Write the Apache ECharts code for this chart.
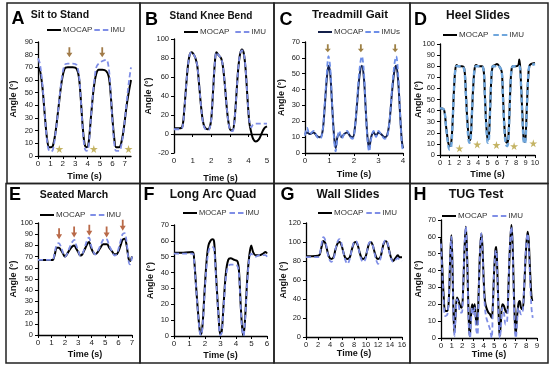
<!DOCTYPE html>
<html><head><meta charset="utf-8">
<script src="https://cdn.jsdelivr.net/npm/echarts@6/dist/echarts.min.js"></script>
<style>html,body{margin:0;padding:0;background:#fff}#c{width:550px;height:369px}</style>
</head><body><div id="c"></div>
<script>
// ---------- DATA ----------
const panelLetters = ['A','B','C','D','E','F','G','H'];
const panelTitles = ['Sit to Stand','Stand Knee Bend','Treadmill Gait','Heel Slides','Seated March','Long Arc Quad','Wall Slides','TUG Test'];
const imuNames = ['IMU','IMU','IMUs','IMU','IMU','IMU','IMU','IMU'];
const xRanges = [[0,7.5,1],[0,5,1],[0,4,1],[0,10,1],[0,7,1],[0,6,1],[0,16,2],[0,9,1]];
const yRanges = [[0,90,10],[-20,100,20],[0,70,10],[0,100,10],[0,100,10],[0,70,10],[0,120,20],[0,70,10]];

const mocapA = [[0,70],[0.15,68],[0.35,55],[0.55,32],[0.75,12],[0.9,7],[1.05,7],[1.2,8],[1.4,18],[1.65,38],[1.9,58],[2.15,69],[2.4,70],[2.8,70],[3.1,69],[3.3,62],[3.45,45],[3.6,24],[3.75,10],[3.9,7],[4.05,8],[4.3,34],[4.5,54],[4.7,65],[4.9,68],[5.2,68],[5.5,67],[5.7,63],[5.85,50],[6.0,30],[6.15,14],[6.3,7],[6.55,7],[6.75,12],[6.95,24],[7.15,40],[7.35,52],[7.5,60]];
const imuA = [[0,77],[0.15,73],[0.35,57],[0.55,32],[0.75,10],[0.9,4],[1.05,3.5],[1.2,5],[1.4,17],[1.65,38],[1.9,60],[2.15,72],[2.4,73],[2.8,73],[3.1,72],[3.3,64],[3.45,45],[3.6,22],[3.75,7],[3.9,4],[4.05,5],[4.3,34],[4.5,56],[4.7,70],[4.9,73],[5.2,75],[5.5,76],[5.7,70],[5.85,52],[6.0,28],[6.15,10],[6.3,4],[6.55,4],[6.75,10],[6.95,24],[7.15,43],[7.35,60],[7.5,70]];

const mocapB = [[0,6],[0.3,6],[0.45,8],[0.55,25],[0.65,50],[0.75,72],[0.85,84],[0.95,86],[1.05,84],[1.15,80],[1.25,72],[1.35,52],[1.45,30],[1.55,14],[1.65,7],[1.8,5],[1.9,6],[2.0,15],[2.1,45],[2.2,76],[2.28,86],[2.4,83],[2.55,79],[2.65,68],[2.75,48],[2.85,25],[2.95,10],[3.05,4],[3.15,4],[3.25,14],[3.35,40],[3.45,68],[3.55,84],[3.65,89],[3.75,85],[3.85,68],[3.95,38],[4.05,12],[4.15,2],[4.25,-5],[4.4,-8],[4.55,-6],[4.7,0],[4.85,6],[5,8]];
const imuB = [[0,5],[0.3,5],[0.45,7],[0.55,24],[0.65,50],[0.75,72],[0.85,84],[0.95,86],[1.05,84],[1.15,80],[1.25,72],[1.35,52],[1.45,30],[1.55,13],[1.65,6],[1.8,4],[1.9,5],[2.0,15],[2.1,45],[2.2,76],[2.28,86],[2.4,83],[2.55,79],[2.65,68],[2.75,48],[2.85,25],[2.95,9],[3.05,3],[3.15,3],[3.25,14],[3.35,40],[3.45,68],[3.55,84],[3.65,88],[3.75,85],[3.85,68],[3.95,38],[4.05,14],[4.15,7],[4.25,10],[4.4,11],[4.7,11],[5,11]];

const mocapC = [[0,12],[0.08,13],[0.2,12],[0.35,13],[0.5,10.5],[0.62,10],[0.72,14],[0.8,28],[0.88,45],[0.96,55],[1.03,50],[1.1,32],[1.18,12],[1.25,3],[1.32,10],[1.4,12],[1.5,10],[1.6,12],[1.72,13],[1.85,10.5],[1.95,10],[2.03,15],[2.12,30],[2.22,48],[2.32,55],[2.4,48],[2.47,30],[2.55,10],[2.62,3],[2.7,10],[2.8,13],[2.9,11],[3.0,13],[3.1,12],[3.25,10],[3.35,11],[3.45,20],[3.55,38],[3.65,52],[3.72,55],[3.8,46],[3.88,25],[3.95,8],[4.0,3]];
const imuC = [[0,11],[0.08,16],[0.2,12],[0.35,14],[0.5,10],[0.62,9],[0.72,14],[0.8,30],[0.88,48],[0.96,61],[1.03,54],[1.1,33],[1.18,10],[1.25,1],[1.32,9],[1.4,14],[1.5,9],[1.6,12],[1.72,14],[1.85,10],[1.95,9],[2.03,15],[2.12,32],[2.22,52],[2.32,61],[2.4,52],[2.47,30],[2.55,8],[2.62,1],[2.7,9],[2.8,14],[2.9,10],[3.0,14],[3.1,12],[3.25,9],[3.35,10],[3.45,20],[3.55,40],[3.65,56],[3.72,61],[3.8,50],[3.88,25],[3.95,6],[4.0,1]];

const mocapD = [[0,42],[0.2,42],[0.45,40],[0.65,25],[0.85,12],[1.0,8],[1.15,9],[1.3,25],[1.45,55],[1.6,76],[1.75,81],[2.0,80],[2.3,80],[2.55,78],[2.7,60],[2.85,35],[3.0,18],[3.1,13],[3.22,15],[3.35,35],[3.5,62],[3.65,78],[3.8,81],[4.1,80],[4.4,80],[4.6,76],[4.72,55],[4.85,30],[4.98,16],[5.05,14],[5.15,17],[5.27,40],[5.4,68],[5.55,80],[5.8,81],[6.0,82],[6.3,79],[6.5,75],[6.62,55],[6.75,30],[6.9,14],[7.05,11],[7.18,14],[7.3,35],[7.43,65],[7.55,78],[7.7,80],[8.0,80],[8.25,81],[8.35,86],[8.45,78],[8.55,60],[8.68,35],[8.8,15],[8.9,12],[9.0,15],[9.13,40],[9.27,68],[9.4,80],[9.6,82],[10,83]];
const imuD = [[0,42],[0.2,42],[0.45,40],[0.65,24],[0.85,10],[1.0,5],[1.15,6],[1.3,24],[1.45,55],[1.6,76],[1.75,80],[2.0,80],[2.3,80],[2.55,77],[2.7,58],[2.85,32],[3.0,14],[3.1,11],[3.22,13],[3.35,35],[3.5,62],[3.65,78],[3.8,80],[4.1,80],[4.4,80],[4.6,76],[4.72,54],[4.85,28],[4.98,13],[5.05,11],[5.15,14],[5.27,40],[5.4,68],[5.55,80],[5.8,80],[6.0,81],[6.3,79],[6.5,75],[6.62,54],[6.75,28],[6.9,11],[7.05,8],[7.18,11],[7.3,35],[7.43,65],[7.55,78],[7.7,80],[8.0,80],[8.25,80],[8.35,80],[8.45,76],[8.55,58],[8.68,32],[8.8,13],[8.9,10],[9.0,13],[9.13,40],[9.27,68],[9.4,80],[9.6,81],[10,82]];

const mocapE = [[0,67],[0.5,67],[1.0,67],[1.1,67],[1.25,72],[1.4,78],[1.55,78],[1.7,76],[1.85,73],[2.0,70],[2.15,72],[2.35,76],[2.55,79],[2.7,80],[2.85,77],[3.0,74],[3.15,71],[3.3,72],[3.5,77],[3.7,82],[3.8,83],[3.95,78],[4.1,74],[4.25,72],[4.45,74],[4.65,78],[4.85,81],[5.0,81],[5.15,81],[5.3,78],[5.5,75],[5.7,72],[5.85,72],[6.0,75],[6.15,80],[6.3,85],[6.45,86],[6.6,80],[6.75,68],[6.85,66],[7.0,70]];
const imuE = [[0,67],[0.5,67],[1.0,67],[1.1,67],[1.25,74],[1.4,81],[1.55,82],[1.7,79],[1.85,74],[2.0,70],[2.15,72],[2.35,78],[2.55,83],[2.7,85],[2.85,80],[3.0,75],[3.15,71],[3.3,72],[3.5,79],[3.7,86],[3.8,87],[3.95,80],[4.1,75],[4.25,72],[4.45,75],[4.65,80],[4.85,85],[5.0,86],[5.15,85],[5.3,80],[5.5,75],[5.7,71],[5.85,72],[6.0,77],[6.15,84],[6.3,90],[6.45,91],[6.6,83],[6.75,66],[6.85,63],[7.0,70]];

const mocapF = [[0,52.5],[0.6,52.5],[1.2,53],[1.3,48],[1.42,32],[1.55,15],[1.67,3],[1.75,1],[1.85,8],[1.97,28],[2.1,47],[2.22,57],[2.35,60],[2.48,61],[2.58,60],[2.65,50],[2.75,32],[2.88,12],[2.98,1],[3.08,3],[3.2,20],[3.35,40],[3.5,48],[3.65,49],[3.9,48],[4.1,47],[4.2,40],[4.3,20],[4.4,5],[4.48,0],[4.58,10],[4.72,35],[4.85,50],[4.98,57],[5.1,53],[5.25,51],[5.5,51],[5.75,52],[5.9,53],[6,52]];
const imuF = [[0,52],[0.6,52],[1.2,52],[1.3,47],[1.42,31],[1.55,14],[1.67,2],[1.75,0.5],[1.85,7],[1.97,26],[2.1,44],[2.22,53],[2.35,56],[2.48,56],[2.58,55],[2.65,47],[2.75,30],[2.88,11],[2.98,0.5],[3.08,2],[3.2,18],[3.35,37],[3.5,44],[3.65,45],[3.9,45],[4.1,44],[4.2,38],[4.3,19],[4.4,4],[4.48,0],[4.58,9],[4.72,33],[4.85,48],[4.98,52],[5.1,51],[5.25,50],[5.5,51],[5.75,51],[5.9,51],[6,50]];

const mocapG = [[0,85],[1,85],[2,85.5],[2.3,87],[2.6,95],[2.9,101],[3.2,99],[3.5,92],[3.8,85],[4.2,82],[4.6,84],[4.9,92],[5.3,99],[5.6,100],[5.9,97],[6.2,90],[6.5,84],[6.9,82],[7.3,84],[7.6,91],[8.0,99],[8.3,100],[8.6,97],[8.9,90],[9.2,84],[9.5,82],[9.9,84],[10.2,91],[10.5,98],[10.8,100],[11.1,97],[11.4,90],[11.7,84],[12.0,82],[12.4,84],[12.7,92],[13.0,99],[13.3,101],[13.6,98],[13.9,90],[14.2,83],[14.5,80],[14.9,83],[15.3,86],[15.6,84],[16,84]];
const imuG = [[0,84],[1,84],[2,84],[2.3,88],[2.6,98],[2.9,105],[3.2,102],[3.5,92],[3.8,83],[4.2,79],[4.6,82],[4.9,92],[5.3,101],[5.6,103],[5.9,99],[6.2,90],[6.5,82],[6.9,77],[7.3,82],[7.6,91],[8.0,100],[8.3,101],[8.6,98],[8.9,89],[9.2,82],[9.5,79],[9.9,82],[10.2,91],[10.5,99],[10.8,100],[11.1,97],[11.4,89],[11.7,81],[12.0,77],[12.4,82],[12.7,92],[13.0,100],[13.3,102],[13.6,99],[13.9,89],[14.2,82],[14.5,79],[14.9,81],[15.3,83],[15.6,81],[16,80]];

const mocapH = [[0,59],[0.1,45],[0.25,25],[0.4,16],[0.6,16],[0.75,25],[0.85,45],[0.97,61],[1.05,50],[1.15,20],[1.25,3],[1.35,12],[1.5,24],[1.65,22],[1.8,19],[1.95,18],[2.08,30],[2.2,52],[2.33,66],[2.42,55],[2.52,30],[2.62,8],[2.7,1],[2.8,12],[2.92,20],[3.05,16],[3.15,20],[3.3,10],[3.4,8],[3.52,25],[3.65,50],[3.78,62],[3.88,55],[4.0,35],[4.12,22],[4.25,18],[4.45,15],[4.6,14],[4.75,12],[4.85,18],[4.97,38],[5.1,52],[5.18,54],[5.28,40],[5.4,15],[5.5,1],[5.6,8],[5.75,20],[5.9,19],[6.05,16],[6.2,15],[6.32,30],[6.45,52],[6.6,67],[6.7,58],[6.8,35],[6.92,10],[7.0,2],[7.1,10],[7.25,20],[7.38,22],[7.5,18],[7.65,17],[7.8,30],[7.95,50],[8.12,63],[8.22,58],[8.35,40],[8.48,25],[8.56,22]];
const imuH = [[0,56],[0.1,42],[0.25,22],[0.4,13],[0.6,14],[0.75,26],[0.85,46],[0.97,60],[1.05,48],[1.15,18],[1.27,1],[1.37,12],[1.5,23],[1.65,20],[1.8,15],[1.95,15],[2.08,30],[2.2,54],[2.33,66],[2.42,54],[2.52,28],[2.62,5],[2.72,0],[2.82,10],[2.92,18],[3.05,14],[3.15,18],[3.3,5],[3.42,2],[3.52,22],[3.65,50],[3.78,62],[3.88,53],[4.0,32],[4.12,18],[4.25,12],[4.45,8],[4.6,5],[4.75,0],[4.85,15],[4.97,38],[5.1,51],[5.18,52],[5.28,38],[5.4,12],[5.52,0],[5.62,6],[5.75,18],[5.9,15],[6.05,8],[6.2,10],[6.32,30],[6.45,54],[6.6,66],[6.7,55],[6.8,30],[6.92,5],[7.02,0],[7.12,8],[7.25,18],[7.38,16],[7.5,14],[7.65,15],[7.8,32],[7.95,52],[8.12,62],[8.22,55],[8.35,35],[8.48,18],[8.6,12]];

const starsA = [[1.72,5.5],[4.5,5.5],[7.3,5.5]];
const starsD = [[2.05,6],[3.92,9.5],[5.94,9],[7.8,8],[9.82,10.5]];
const arrowsA = [[2.53,82],[5.18,82]];
const arrowsC = [[0.93,66],[2.28,66],[3.68,66]];
const arrowsE = [[1.57,90.5],[2.69,92],[3.82,93.5],[5.11,92],[6.31,98]];

const mocapSets = [mocapA,mocapB,mocapC,mocapD,mocapE,mocapF,mocapG,mocapH];
const imuSets = [imuA,imuB,imuC,imuD,imuE,imuF,imuG,imuH];

// ---------- LAYOUT / STYLE ----------
const grids = [
  {left:38, top:42, width:93, height:114},
  {left:174, top:39, width:93, height:114},
  {left:305, top:42, width:98, height:111},
  {left:440, top:44, width:95, height:111},
  {left:38, top:223, width:94, height:112},
  {left:174, top:225, width:93, height:111},
  {left:306, top:223, width:96, height:114},
  {left:441, top:220, width:96, height:118}
];
const yNameGap = [20,20.5,18.5,17,20,19,18,18];
const xNameGap = [16.5,21,17.5,15.5,15.5,15,12,12];
const titlePos = [[60,15.5,10.5],[211,16,10],[350,15,11.5],[478,16,12],[74,195,10.5],[213,195,12],[348,195,12],[476,194.5,12.5]];
const letterPos = [[18,19],[151.5,20],[286,20],[420.5,20],[15,195.5],[149,195.5],[287.5,195],[420,195]];
const legendPos = [[42,21,2],[179,23,6],[313,23,2],[438,26,5],[35,206,5],[178,204,3],[313,204,3],[437,207,5]];
const mocapColors = ['#000','#000','#14204a','#000','#000','#000','#000','#000'];
const imuColors = ['#7f8ee6','#7f8ee6','#6d8ee8','#6fa6dc','#7f8ee6','#7f8ee6','#7f8ee6','#7f8ee6'];
const imuWidths = [1.8,1.8,1.8,2.4,1.8,1.8,1.8,1.8];
const FONT = 'Arial, "Liberation Sans", sans-serif';
const starPath = 'path://M50,0 L61,35 L98,35 L68,57 L79,91 L50,70 L21,91 L32,57 L2,35 L39,35 Z';
const arrowPath = 'path://M35,0 L65,0 L65,55 L100,55 L50,100 L0,55 L35,55 Z';
const solidIcon = 'path://M0,0 H14 V2 H0 Z';
const dashIcon = 'path://M0,0 H5.5 V2 H0 Z M8.5,0 H14 V2 H8.5 Z';

const option = {
  animation:false,
  backgroundColor:'#fff',
  grid:[], xAxis:[], yAxis:[], series:[], legend:[], graphic:[]
};

for (let i=0;i<8;i++){
  option.grid.push(Object.assign({containLabel:false, outerBoundsMode:'none'}, grids[i]));
  const xr = xRanges[i], yr = yRanges[i];
  option.xAxis.push({
    type:'value', gridIndex:i, min:xr[0], max:xr[1], interval:xr[2],
    name:'Time (s)', nameLocation:'middle', nameGap:xNameGap[i], nameMoveOverlap:false,
    nameTextStyle:{fontFamily:FONT, fontWeight:'bold', fontSize:9, color:'#111'},
    axisLine:{onZero:true, lineStyle:{color:'#000', width:1.3}},
    axisTick:{show:true, length:3, lineStyle:{color:'#000'}},
    axisLabel:{fontFamily:FONT, fontSize: i===6||i===3 ? 7.5 : 8, color:'#222', margin:4,
      showMaxLabel: xr[1] % xr[2] === 0,
      formatter: v => (Math.abs(v/xr[2]-Math.round(v/xr[2]))>1e-6 ? '' : String(v))},
    splitLine:{show:false}
  });
  option.yAxis.push({
    type:'value', gridIndex:i, min:yr[0], max:yr[1], interval:yr[2],
    name:'Angle (°)', nameLocation:'middle', nameGap:yNameGap[i], nameRotate:90, nameMoveOverlap:false,
    nameTextStyle:{fontFamily:FONT, fontWeight:'bold', fontSize:9, color:'#111'},
    axisLine:{show:true, lineStyle:{color:'#000', width:1.3}},
    axisTick:{show:true, length:3, lineStyle:{color:'#000'}},
    axisLabel:{fontFamily:FONT, fontSize:7.5, color:'#222', margin:5},
    splitLine:{show:false}
  });
  option.series.push({
    type:'line', name:'MOCAP', xAxisIndex:i, yAxisIndex:i, data:mocapSets[i],
    showSymbol:false, symbol:'none', smooth:0.35, lineStyle:{color:mocapColors[i], width:2}, itemStyle:{color:mocapColors[i]}
  });
  option.series.push({
    type:'line', name:imuNames[i], xAxisIndex:i, yAxisIndex:i, data:imuSets[i],
    showSymbol:false, symbol:'none', smooth:0.35, lineStyle:{color:imuColors[i], width:imuWidths[i], type:[5,3]}, itemStyle:{color:imuColors[i]}
  });
  option.legend.push({
    left:legendPos[i][0], top:legendPos[i][1], itemWidth:14, itemHeight:2, itemGap:legendPos[i][2],
    selectedMode:false,
    textStyle:{fontFamily:FONT, fontSize: i===5 ? 7.5 : 8, color:'#333', padding:[0,0,0,-3]},
    data:[
      {name:'MOCAP', icon:solidIcon, itemStyle:{color:mocapColors[i], borderWidth:0}},
      {name:imuNames[i], icon:dashIcon, itemStyle:{color:imuColors[i], borderWidth:0}}
    ]
  });
  option.graphic.push({type:'text', x:titlePos[i][0], y:titlePos[i][1], silent:true,
    style:{text:panelTitles[i], font:'bold '+titlePos[i][2]+'px '+FONT, fill:'#111', align:'center', verticalAlign:'middle', textAlign:'center', textVerticalAlign:'middle'}});
  option.graphic.push({type:'text', x:letterPos[i][0], y:letterPos[i][1], silent:true,
    style:{text:panelLetters[i], font:'bold 18px '+FONT, fill:'#000', align:'center', verticalAlign:'middle', textAlign:'center', textVerticalAlign:'middle'}});
}

// markers
option.series.push({type:'scatter', xAxisIndex:0, yAxisIndex:0, data:starsA, symbol:starPath, symbolSize:8, clip:false, itemStyle:{color:'#b5a03c'}, z:5, silent:true});
option.series.push({type:'scatter', xAxisIndex:3, yAxisIndex:3, data:starsD, symbol:starPath, symbolSize:8, clip:false, itemStyle:{color:'#b5a03c'}, z:5, silent:true});
option.series.push({type:'scatter', xAxisIndex:0, yAxisIndex:0, data:arrowsA, symbol:arrowPath, symbolSize:[6,10], clip:false, itemStyle:{color:'#8a5a1c'}, z:5, silent:true});
option.series.push({type:'scatter', xAxisIndex:2, yAxisIndex:2, data:arrowsC, symbol:arrowPath, symbolSize:[6,8], clip:false, itemStyle:{color:'#866218'}, z:5, silent:true});
option.series.push({type:'scatter', xAxisIndex:4, yAxisIndex:4, data:arrowsE, symbol:arrowPath, symbolSize:[6,11], clip:false, itemStyle:{color:'#a8451c'}, z:5, silent:true});

// panel borders
const boxes = [[7,3,133,180.5],[140,3,134,180.5],[274,3,136,180.5],[410,3,138,180.5],
               [6,183.5,134,179.5],[140,183.5,134,179.5],[274,183.5,136,179.5],[410,183.5,138,179.5]];
boxes.forEach(b=>option.graphic.push({type:'rect', silent:true, z:-1, shape:{x:b[0],y:b[1],width:b[2],height:b[3]}, style:{fill:null, stroke:'#222', lineWidth:1.5}}));

const chart = echarts.init(document.getElementById('c'), null, {renderer:'canvas'});
chart.setOption(option);
</script></body></html>
